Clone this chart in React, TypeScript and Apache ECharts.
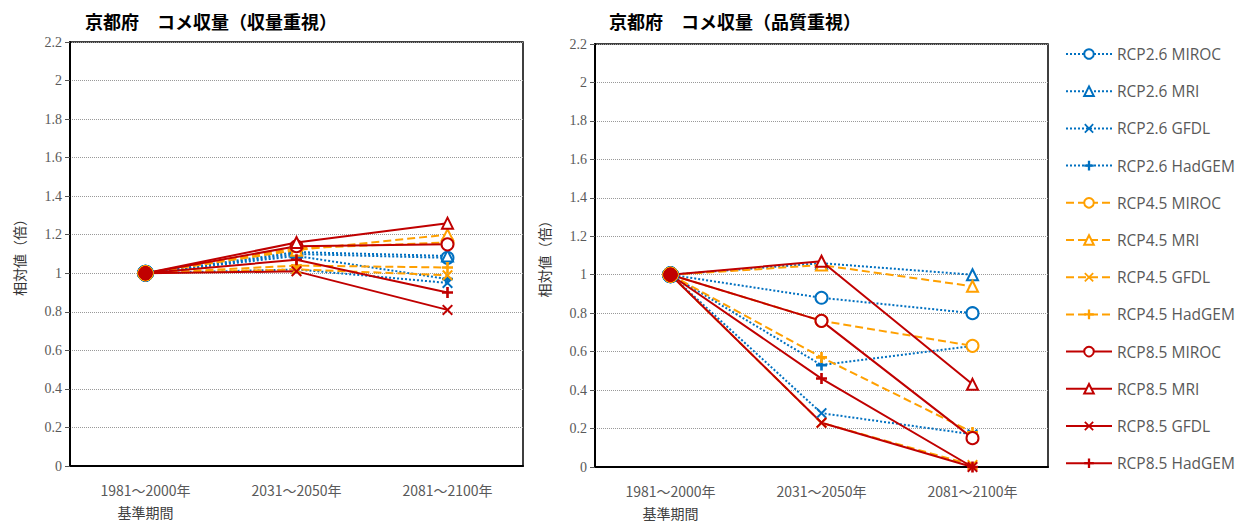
import React, { useEffect, useRef } from "react";
import * as echarts from "echarts";

const categories = ["1981～2000年", "2031～2050年", "2081～2100年"];
const yTicks = [0, 0.2, 0.4, 0.6, 0.8, 1, 1.2, 1.4, 1.6, 1.8, 2, 2.2];

const seriesNames = [
  "RCP2.6 MIROC", "RCP2.6 MRI", "RCP2.6 GFDL", "RCP2.6 HadGEM",
  "RCP4.5 MIROC", "RCP4.5 MRI", "RCP4.5 GFDL", "RCP4.5 HadGEM",
  "RCP8.5 MIROC", "RCP8.5 MRI", "RCP8.5 GFDL", "RCP8.5 HadGEM",
];

// 収量重視 (left)
const yieldRcp26Miroc = [1, 1.10, 1.08];
const yieldRcp26Mri = [1, 1.11, 1.09];
const yieldRcp26Gfdl = [1, 1.02, 0.95];
const yieldRcp26Hadgem = [1, 1.09, 0.97];
const yieldRcp45Miroc = [1, 1.13, 1.16];
const yieldRcp45Mri = [1, 1.12, 1.20];
const yieldRcp45Gfdl = [1, 1.02, 0.99];
const yieldRcp45Hadgem = [1, 1.04, 1.03];
const yieldRcp85Miroc = [1, 1.14, 1.15];
const yieldRcp85Mri = [1, 1.16, 1.26];
const yieldRcp85Gfdl = [1, 1.01, 0.81];
const yieldRcp85Hadgem = [1, 1.07, 0.90];

// 品質重視 (right)
const qualRcp26Miroc = [1, 0.88, 0.80];
const qualRcp26Mri = [1, 1.06, 1.00];
const qualRcp26Gfdl = [1, 0.28, 0.17];
const qualRcp26Hadgem = [1, 0.53, 0.63];
const qualRcp45Miroc = [1, 0.76, 0.63];
const qualRcp45Mri = [1, 1.05, 0.94];
const qualRcp45Gfdl = [1, 0.23, 0.01];
const qualRcp45Hadgem = [1, 0.57, 0.18];
const qualRcp85Miroc = [1, 0.76, 0.15];
const qualRcp85Mri = [1, 1.07, 0.43];
const qualRcp85Gfdl = [1, 0.23, 0.0];
const qualRcp85Hadgem = [1, 0.46, 0.0];

const yieldData = [
  yieldRcp26Miroc, yieldRcp26Mri, yieldRcp26Gfdl, yieldRcp26Hadgem,
  yieldRcp45Miroc, yieldRcp45Mri, yieldRcp45Gfdl, yieldRcp45Hadgem,
  yieldRcp85Miroc, yieldRcp85Mri, yieldRcp85Gfdl, yieldRcp85Hadgem,
];
const qualData = [
  qualRcp26Miroc, qualRcp26Mri, qualRcp26Gfdl, qualRcp26Hadgem,
  qualRcp45Miroc, qualRcp45Mri, qualRcp45Gfdl, qualRcp45Hadgem,
  qualRcp85Miroc, qualRcp85Mri, qualRcp85Gfdl, qualRcp85Hadgem,
];

const BLUE = "#0070C0";
const ORANGE = "#FFA000";
const RED = "#C00000";

const PLUS = "path://M3.8,0 H6.2 V3.8 H10 V6.2 H6.2 V10 H3.8 V6.2 H0 V3.8 H3.8 Z";
const CROSS =
  "path://M0,1.3 L1.3,0 L5,3.7 L8.7,0 L10,1.3 L6.3,5 L10,8.7 L8.7,10 L5,6.3 L1.3,10 L0,8.7 L3.7,5 Z";

const symbols = ["emptyCircle", "emptyTriangle", CROSS, PLUS];
const symbolSizes = [12, 11, 11, 11];
const groupColors = [BLUE, ORANGE, RED];
const groupLineTypes: any[] = ["dotted", "dashed", "solid"];
const groupLineWidths = [2, 2, 2];
const firstSizes = [16, 15, 13];

function makeSeries(data: number[][], axisIndex: number) {
  return data.map((vals, i) => {
    const g = Math.floor(i / 4);
    const m = i % 4;
    return {
      name: seriesNames[i],
      type: "line",
      xAxisIndex: axisIndex,
      yAxisIndex: axisIndex,
      symbol: symbols[m],
      symbolSize: symbolSizes[m],
      showAllSymbol: true,
      lineStyle: {
        color: groupColors[g],
        type: groupLineTypes[g],
        width: groupLineWidths[g],
      },
      itemStyle: {
        color: groupColors[g],
        borderColor: groupColors[g],
        borderWidth: m < 2 ? 2.2 : 0,
      },
      emphasis: { disabled: true },
      data: vals.map((v, k) =>
        k === 0
          ? { value: v, symbol: "circle", symbolSize: firstSizes[g], itemStyle: { borderWidth: 1 } }
          : v
      ),
    };
  });
}

const labelFont = "'Liberation Serif', serif";
const cjkFont = "'Noto Sans CJK JP', sans-serif";

function xAxisCfg(gridIndex: number) {
  return {
    type: "category",
    gridIndex,
    data: categories,
    boundaryGap: true,
    axisLine: { show: true, lineStyle: { color: "#000", width: 2 } },
    axisTick: { show: false },
    axisLabel: {
      margin: 13,
      color: "#595959",
      fontFamily: cjkFont,
      fontSize: 14,
      interval: 0,
      formatter: (val: string, idx: number) =>
        idx === 0 ? `{a|${val}}\n{b|基準期間}` : `{a|${val}}`,
      rich: {
        a: { color: "#595959", fontFamily: cjkFont, fontSize: 14, lineHeight: 22 },
        b: { color: "#404040", fontFamily: cjkFont, fontSize: 14, lineHeight: 22 },
      },
    },
  };
}

function yAxisCfg(gridIndex: number) {
  return {
    type: "value",
    gridIndex,
    min: yTicks[0],
    max: yTicks[yTicks.length - 1],
    interval: 0.2,
    name: "相対値（倍）",
    nameLocation: "middle",
    nameGap: 44,
    nameTextStyle: { color: "#333", fontFamily: cjkFont, fontSize: 14 },
    axisLine: { show: true, lineStyle: { color: "#000", width: 2 } },
    axisTick: { show: true, length: 5, lineStyle: { color: "#555" } },
    axisLabel: {
      color: "#595959",
      fontFamily: labelFont,
      fontSize: 14,
      margin: 8,
      formatter: (v: number) => String(Math.round(v * 10) / 10),
    },
    splitLine: { show: true, lineStyle: { color: "#999", type: [1, 1], width: 1 } },
  };
}

export default function App() {
  const ref = useRef<HTMLDivElement>(null);
  useEffect(() => {
    if (!ref.current) return;
    const chart = echarts.init(ref.current, undefined, { renderer: "svg" });
    chart.setOption({
      animation: false,
      backgroundColor: "#fff",
      title: [
        {
          text: "京都府　コメ収量（収量重視）",
          left: 80,
          top: 7,
          textStyle: { fontFamily: cjkFont, fontSize: 18, fontWeight: "bold", color: "#000" },
        },
        {
          text: "京都府　コメ収量（品質重視）",
          left: 604,
          top: 7,
          textStyle: { fontFamily: cjkFont, fontSize: 18, fontWeight: "bold", color: "#000" },
        },
      ],
      grid: [
        { left: 70, top: 42, width: 453, height: 424, show: true, borderColor: "#000", borderWidth: 1.5 },
        { left: 595, top: 44, width: 453, height: 423, show: true, borderColor: "#000", borderWidth: 1.5 },
      ],
      xAxis: [xAxisCfg(0), xAxisCfg(1)],
      yAxis: [yAxisCfg(0), yAxisCfg(1)],
      legend: {
        orient: "vertical",
        left: 1060,
        top: 41,
        itemWidth: 46,
        itemHeight: 12,
        itemGap: 21.2,
        data: seriesNames,
        selectedMode: false,
        textStyle: { color: "#595959", fontFamily: "'Open Sans', sans-serif", fontSize: 15.5 },
      },
      series: [...makeSeries(yieldData, 0), ...makeSeries(qualData, 1)],
    });
    return () => chart.dispose();
  }, []);
  return (
    <div
      ref={ref}
      style={{ position: "fixed", left: 0, top: 0, width: 1242, height: 525, background: "#fff" }}
    />
  );
}
